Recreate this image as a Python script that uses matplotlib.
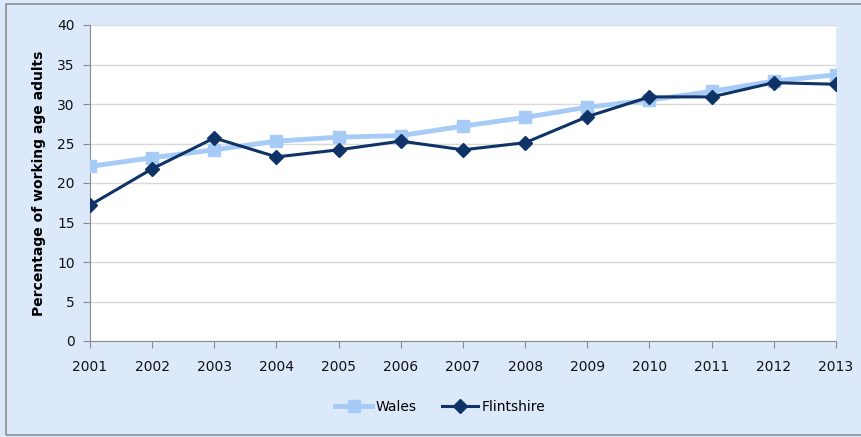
import matplotlib
matplotlib.use("Agg")
import matplotlib.pyplot as plt
from matplotlib.patches import Rectangle

years = [2001, 2002, 2003, 2004, 2005, 2006, 2007, 2008, 2009, 2010, 2011, 2012, 2013]
wales = [22.1, 23.2, 24.2, 25.3, 25.8, 26.0, 27.2, 28.3, 29.6, 30.5, 31.6, 32.9, 33.7]
flintshire = [17.2, 21.8, 25.7, 23.3, 24.2, 25.3, 24.2, 25.1, 28.4, 30.9, 30.9, 32.7, 32.5]
y_ticks = [0, 5, 10, 15, 20, 25, 30, 35, 40]

bg = "#DCE9FB"
fig = plt.figure(figsize=(8.62, 4.37), dpi=100)
fig.patch.set_facecolor(bg)
fig.patches.append(Rectangle((6/862, 0.004), (862-6)/862 + 0.01, (434-3)/437, transform=fig.transFigure,
                             fill=False, edgecolor="#8C8C8C", linewidth=1.2))

ax = fig.add_axes([90/862, (437-341)/437, (836-90)/862, (341-25)/437])
ax.set_facecolor("white")
x = list(range(len(years)))
ax.plot(x, wales, color="#A6CBF7", linewidth=3.5, marker="s", markersize=8.5, label="Wales", zorder=3)
ax.plot(x, flintshire, color="#0F3366", linewidth=2.2, marker="D", markersize=7.5, label="Flintshire", zorder=4)

ax.set_xlim(0, len(years) - 1)
ax.set_ylim(0, 40)
ax.set_yticks(y_ticks)
ax.set_xticks(x)
ax.set_xticklabels([str(y) for y in years])
ax.grid(axis="y", color="#D9D9D9", linewidth=1)
ax.set_axisbelow(True)
for s in ["top", "right"]:
    ax.spines[s].set_visible(False)
for s in ["left", "bottom"]:
    ax.spines[s].set_color("#8C8C8C")
ax.tick_params(axis="both", colors="#8C8C8C", labelcolor="#111111", labelsize=10, length=5, direction="out")
ax.tick_params(axis="x", pad=9)
ax.tick_params(axis="y", pad=6)
ax.set_ylabel("Percentage of working age adults", fontsize=10, fontweight="bold", labelpad=8)

leg = ax.legend(loc="center", bbox_to_anchor=(0.47, -0.21), ncol=2, frameon=False,
                fontsize=10, handlelength=2.6, columnspacing=1.8, handletextpad=0.3)

fig.savefig("out.png", dpi=100, facecolor=bg)
